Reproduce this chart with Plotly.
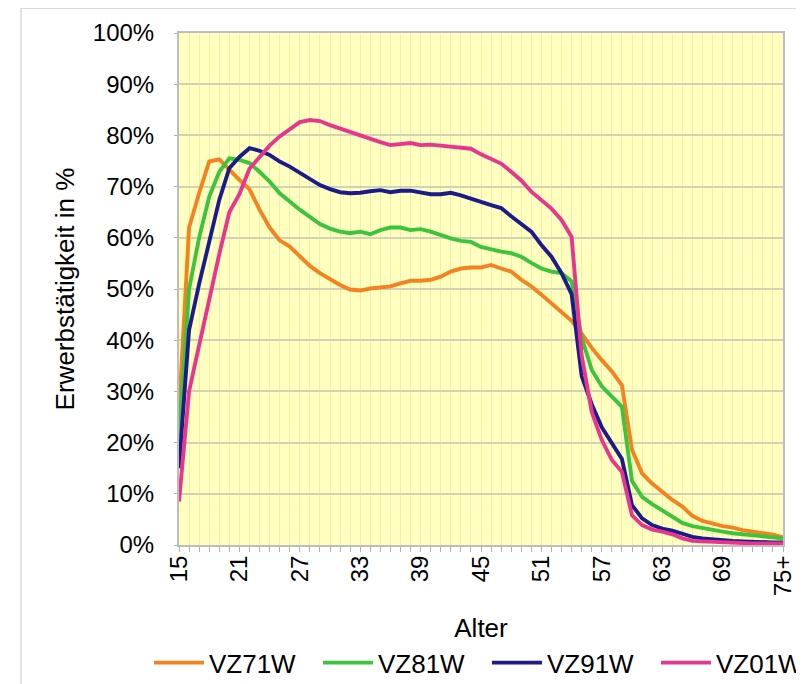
import plotly.graph_objects as go

ages = [str(a) for a in range(15, 75)] + ["75+"]

vz71w = [26, 62, 68.7, 74.9, 75.3, 73.2, 71.3, 69.5, 65.5, 62, 59.5, 58.3, 56.5, 54.5, 53.1, 51.9,
         50.8, 49.9, 49.7, 50.1, 50.3, 50.5, 51.1, 51.6, 51.6, 51.8, 52.4, 53.4, 54, 54.2, 54.2,
         54.7, 54, 53.4, 51.8, 50.5, 48.9, 47.2, 45.6, 43.8, 41.3, 38.5, 36.1, 33.9, 31.2, 18.6,
         14, 12, 10.4, 8.8, 7.5, 5.7, 4.7, 4.2, 3.7, 3.4, 2.9, 2.6, 2.3, 2.0, 1.5]

vz81w = [21, 50, 60, 68, 72.9, 75.5, 75.2, 74.6, 72.9, 71, 68.7, 67, 65.5, 64.1, 62.7, 61.8,
         61.2, 60.9, 61.2, 60.7, 61.5, 62, 62, 61.5, 61.7, 61.2, 60.5, 59.9, 59.4, 59.2, 58.2,
         57.7, 57.3, 57, 56.3, 55.1, 54, 53.4, 53.1, 51.5, 40.5, 34.2, 31, 29, 27, 12.5,
         9.4, 8, 6.8, 5.5, 4.3, 3.7, 3.3, 3.0, 2.6, 2.3, 2.1, 1.9, 1.7, 1.5, 1.3]

vz91w = [15, 42, 51, 59.6, 67.4, 73.6, 75.8, 77.5, 77, 76.2, 74.9, 73.9, 72.7, 71.4, 70.3, 69.5,
         68.9, 68.7, 68.8, 69.1, 69.3, 68.9, 69.2, 69.2, 68.8, 68.5, 68.5, 68.8, 68.3, 67.6, 67,
         66.4, 65.8, 64.2, 62.8, 61.2, 58.6, 56.3, 53.1, 49, 33, 27.5, 23, 19.8, 16.8, 7.8,
         5.2, 3.9, 3.2, 2.8, 2.1, 1.6, 1.3, 1.1, 0.9, 0.8, 0.7, 0.6, 0.6, 0.5, 0.5]

vz01w = [8.5, 30, 39, 48, 56.8, 65, 68.5, 73.5, 75.8, 78, 79.8, 81.3, 82.6, 83, 82.8, 82,
         81.3, 80.6, 80, 79.3, 78.7, 78.1, 78.3, 78.5, 78.1, 78.2, 78, 77.8, 77.6, 77.4, 76.3,
         75.5, 74.5, 72.9, 71.2, 69, 67.4, 65.7, 63.5, 60.2, 37, 26, 20.5, 16.6, 14.3, 5.8,
         3.9, 3.0, 2.6, 2.1, 1.3, 0.8, 0.7, 0.6, 0.5, 0.4, 0.4, 0.3, 0.3, 0.3, 0.3]

series = [("VZ71W", vz71w, "#F5821F"), ("VZ81W", vz81w, "#3CC43C"),
          ("VZ91W", vz91w, "#1B1B8C"), ("VZ01W", vz01w, "#E8368F")]

FONT = "Liberation Sans, Arial, sans-serif"

fig = go.Figure()
for name, vals, col in series:
    fig.add_trace(go.Scatter(x=ages, y=vals, name=name, mode="lines",
                             line=dict(color=col, width=3.9)))

ticktext = [a if i % 6 == 0 else "" for i, a in enumerate(ages)]

fig.update_layout(
    width=804, height=684,
    margin=dict(l=171, r=29, t=25, b=147, autoexpand=False),
    paper_bgcolor="white",
    plot_bgcolor="#FFFFC0",
    font=dict(family=FONT, color="black", size=24),
    showlegend=True,
    legend=dict(orientation="h", x=-0.0497, xanchor="left", y=-0.23, yanchor="middle",
                font=dict(size=26, family=FONT), entrywidth=104, entrywidthmode="pixels",
                itemwidth=50, bgcolor="rgba(0,0,0,0)"),
    xaxis=dict(type="category", categoryorder="array", categoryarray=ages,
               range=[0, 60], tickmode="array", tickvals=ages, ticktext=ticktext,
               tickangle=-90, tickfont=dict(size=24), ticks="outside", ticklen=5,
               tickcolor="#B0B0B0", ticklabelstandoff=-6, showgrid=True,
               gridcolor="#EFEFA8", gridwidth=1,
               showline=True, linecolor="#BDBDBD", linewidth=2, mirror=True,
               title=dict(text="Alter", font=dict(size=26), standoff=23),
               automargin=False, zeroline=False),
    yaxis=dict(range=[0, 100], tickmode="array", tickvals=list(range(0, 101, 10)),
               ticktext=[f"{v}%" for v in range(0, 101, 10)], tickfont=dict(size=24),
               ticks="outside", ticklen=3, tickcolor="#B0B0B0", ticklabelstandoff=15,
               showgrid=True, gridcolor="#D2D2B4", gridwidth=1.5,
               showline=True, linecolor="#BDBDBD", linewidth=2, mirror=True,
               title=dict(text="Erwerbstätigkeit in %", font=dict(size=26), standoff=11),
               automargin=False, zeroline=False),
)

fig.add_shape(type="rect", xref="paper", yref="paper", x0=-0.2616, x1=1.2, y0=-0.4, y1=1.0485,
              line=dict(color="#D9D9D9", width=1.5), fillcolor="rgba(0,0,0,0)", layer="below")

fig.write_html("out.html")
